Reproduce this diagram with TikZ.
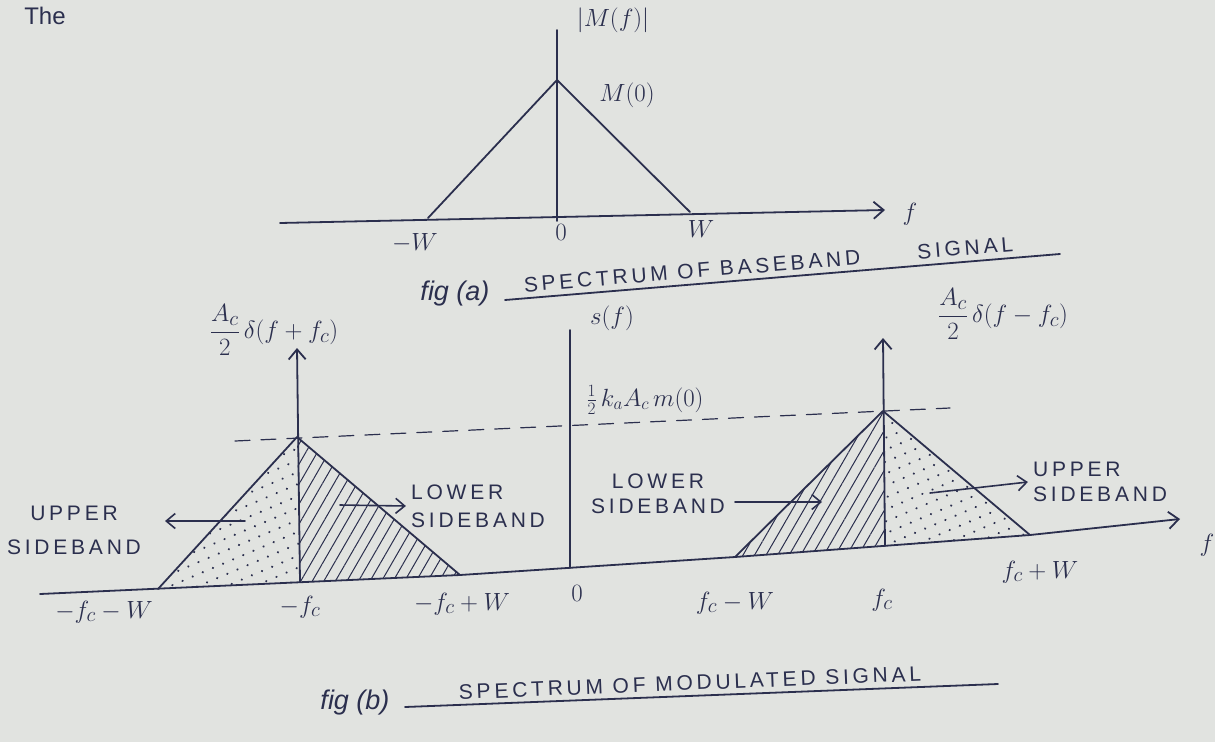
\documentclass[tikz,border=0pt]{standalone}
\usepackage{fontspec}
\setmainfont{Liberation Sans}
\newfontfamily\handfont[LetterSpace=18]{Liberation Sans}
\usetikzlibrary{arrows.meta,patterns.meta}
\definecolor{Paper}{HTML}{E1E3E0}
\definecolor{InkBlue}{HTML}{2B2F4E}

\begin{document}
\begin{tikzpicture}[x=1pt,y=-1pt,line cap=round,line join=round,
  ink/.style={InkBlue,line width=1.8pt},
  axisarrow/.style={ink,-{Straight Barb[length=10pt,width=17pt]}},
  sidearrow/.style={InkBlue,line width=1.6pt,-{Straight Barb[length=9pt,width=15pt]}},
  dashline/.style={InkBlue,line width=1.2pt,dash pattern=on 15pt off 11pt},
  lbl/.style={text=InkBlue,font=\handfont\fontsize{21}{25}\selectfont,inner sep=1pt},
  mlbl/.style={text=InkBlue,font=\fontsize{28}{30}\selectfont,inner sep=1pt},
  figlbl/.style={text=InkBlue,font=\fontsize{27}{30}\selectfont\itshape,inner sep=1pt},
  hatch/.style={pattern={Lines[angle=60,distance=10pt,line width=1pt]},pattern color=InkBlue},
  speckle/.style={pattern={Dots[angle=23,distance=11pt,radius=1.2pt]},pattern color=InkBlue}]
  \path[use as bounding box,fill=Paper] (0,0) rectangle (1215,742);
  \node[mlbl,font=\fontsize{24}{26}\selectfont] (topword) at (45,16) {The};

  % fig (a): baseband spectrum
  \coordinate (aStart) at (280,223);\coordinate (aEnd) at (885,210);
  \coordinate (aZero) at (557,221);\coordinate (aTop) at (557,30);
  \coordinate (aPeak) at (557,80);\coordinate (aLeft) at (428,218);\coordinate (aRight) at (690,212);
  \draw[axisarrow] (aStart) -- (aEnd);
  \draw[ink] (aZero) -- (aTop);
  \draw[ink] (aLeft) -- (aPeak) -- (aRight);
  \node[mlbl] (magLbl) at (613,20) {$|M(f)|$};
  \node[mlbl] (mzeroLbl) at (627,95) {$M(0)$};
  \node[mlbl] (faLbl) at (910,214) {$f$};
  \node[mlbl] (mwLbl) at (415,243) {$-W$};
  \node[mlbl] (zaLbl) at (561,232) {$0$};
  \node[mlbl] (wLbl) at (701,229) {$W$};
  \node[figlbl] (capA) at (455,294) {fig (a)};
  \node[lbl,rotate=4.7] (titleA) at (692,271) {SPECTRUM OF BASEBAND};
  \node[lbl,rotate=4.7] (titleAend) at (965,248) {SIGNAL};
  \draw[ink] (505,300) -- (1060,254);

  % fig (b): modulated spectrum
  \coordinate (bStart) at (40,594);\coordinate (bEnd) at (1180,519);
  \coordinate (sZero) at (570,568);\coordinate (sTop) at (570,330);
  \coordinate (lLeft) at (158,589);\coordinate (lPeak) at (297,437);\coordinate (lBase) at (300,582);\coordinate (lRight) at (460,575);
  \coordinate (lTip) at (297,348);
  \coordinate (rLeft) at (735,557);\coordinate (rPeak) at (883,411);\coordinate (rBase) at (885,546);\coordinate (rRight) at (1030,535);
  \coordinate (rTip) at (883,338);
  \fill[speckle] (lLeft) -- (lPeak) -- (lBase) -- cycle;
  \fill[hatch] (lBase) -- (lPeak) -- (lRight) -- cycle;
  \fill[hatch] (rLeft) -- (rPeak) -- (rBase) -- cycle;
  \fill[speckle] (rBase) -- (rPeak) -- (rRight) -- cycle;
  \draw[dashline] (235,441) -- (950,408);
  \draw[axisarrow] (bStart) -- (lRight) -- (rLeft) -- (rRight) -- (bEnd);
  \draw[ink] (sZero) -- (sTop);
  \draw[axisarrow] (lBase) -- (lTip);
  \draw[axisarrow] (rBase) -- (rTip);
  \draw[ink] (lLeft) -- (lPeak) -- (lRight);
  \draw[ink] (rLeft) -- (rPeak) -- (rRight);

  \node[mlbl] (leftImp) at (274,330) {$\displaystyle\frac{A_c}{2}\,\delta(f+f_c)$};
  \node[mlbl] (rightImp) at (1003,314) {$\displaystyle\frac{A_c}{2}\,\delta(f-f_c)$};
  \node[mlbl] (sLbl) at (612,318) {$s(f)$};
  \node[mlbl,font=\fontsize{25}{27}\selectfont] (levelLbl) at (645,400) {$\frac{1}{2}\,k_aA_c\,m(0)$};

  \node[lbl,align=center] (usbLeft) at (74,530) {UPPER\\[9pt]SIDEBAND};
  \node[lbl,align=left] (lsbLeft) at (478,506) {LOWER\\[3pt]SIDEBAND};
  \node[lbl,align=center] (lsbRight) at (658,494) {LOWER\\SIDEBAND};
  \node[lbl,align=left] (usbRight) at (1100,482) {UPPER\\SIDEBAND};
  \coordinate (usbLeftFrom) at (245,521);\coordinate (usbLeftTo) at (165,521);
  \coordinate (lsbLeftFrom) at (340,505);
  \coordinate (lsbRightFrom) at (735,502);\coordinate (lsbRightTo) at (822,502);
  \coordinate (usbRightFrom) at (930,493);
  \draw[sidearrow] (usbLeftFrom) -- (usbLeftTo);
  \draw[sidearrow] (lsbLeftFrom) -- ([xshift=-4pt]lsbLeft.west);
  \draw[sidearrow] (lsbRightFrom) -- (lsbRightTo);
  \draw[sidearrow] (usbRightFrom) -- ([xshift=-4pt]usbRight.west);

  \node[mlbl] (fbLbl) at (1207,545) {$f$};
  \node[mlbl] (m1Lbl) at (104,612) {$-f_c-W$};
  \node[mlbl] (m2Lbl) at (300,607) {$-f_c$};
  \node[mlbl] (m3Lbl) at (462,604) {$-f_c+W$};
  \node[mlbl] (zbLbl) at (577,593) {$0$};
  \node[mlbl] (p1Lbl) at (735,603) {$f_c-W$};
  \node[mlbl] (p2Lbl) at (882,600) {$f_c$};
  \node[mlbl] (p3Lbl) at (1040,572) {$f_c+W$};

  \node[figlbl] (capB) at (355,703) {fig (b)};
  \node[lbl,rotate=2.3] (titleB) at (690,683) {SPECTRUM OF MODULATED SIGNAL};
  \draw[ink] (405,707) -- (998,684);
\end{tikzpicture}
\end{document}
